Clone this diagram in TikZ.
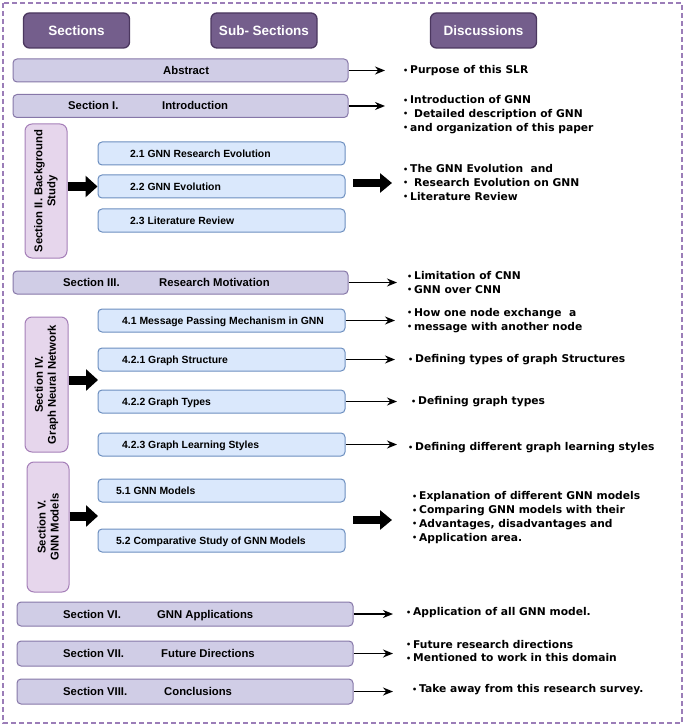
\documentclass[tikz,border=0pt]{standalone}
\usepackage{fontspec}
\setmainfont{Liberation Sans}
\newfontfamily\dvfont{DejaVu Sans}
\usetikzlibrary{arrows.meta}
\definecolor{hdrfill}{HTML}{745E8C}
\definecolor{hdrdraw}{HTML}{4B375F}
\definecolor{barfill}{HTML}{D0CDE6}
\definecolor{bardraw}{HTML}{8677A8}
\definecolor{secfill}{HTML}{E6D6EC}
\definecolor{secdraw}{HTML}{A57FB8}
\definecolor{subfill}{HTML}{DAE8FC}
\definecolor{subdraw}{HTML}{6C8EBF}
\definecolor{outerc}{HTML}{9B7DB8}
\newcommand\bul{\makebox[7pt][l]{\raisebox{0.6pt}{\fontsize{8}{8}\selectfont •}}}
\begin{document}
\begin{tikzpicture}[x=1pt,y=-1pt,
  hdr/.style={draw=hdrdraw,fill=hdrfill,line width=1.3pt,rounded corners=6pt,
    minimum width=106pt,minimum height=35pt,text=white,
    font=\fontsize{13.5}{15}\selectfont\bfseries},
  bar/.style={draw=bardraw,fill=barfill,line width=1pt,rounded corners=4pt,
    minimum width=335pt,minimum height=23pt},
  secbox/.style={draw=secdraw,fill=secfill,line width=1pt,rounded corners=7pt,
    minimum width=42pt,minimum height=134pt},
  sectext/.style={rotate=90,align=center,inner sep=0pt,
    font=\fontsize{11.3}{13}\selectfont\bfseries},
  subbox/.style={draw=subdraw,fill=subfill,line width=1pt,rounded corners=4pt,
    minimum width=247pt,minimum height=23pt},
  bartext/.style={anchor=west,inner sep=0pt,text height=8pt,text depth=0pt,
    font=\fontsize{11.3}{13}\selectfont\bfseries},
  subtext/.style={anchor=west,inner sep=0pt,text height=7.5pt,text depth=0pt,
    font=\fontsize{10.4}{12}\selectfont\bfseries},
  disc/.style={anchor=west,inner sep=0pt,align=left,
    font=\dvfont\fontsize{10.7}{13.7}\selectfont\bfseries},
  thinarrow/.style={line width=1.8pt,-{Stealth[length=10pt,width=8pt]}},
  fatarrow/.style={line width=9pt,-{Triangle[length=12pt,width=21pt]}},
  fatarrowR/.style={line width=7.5pt,-{Triangle[length=12pt,width=19pt]}}
]
\useasboundingbox (0,0) rectangle (685,727);
\draw[outerc,line width=1.5pt,dash pattern=on 5pt off 3pt] (3,3) rectangle (682,723);

% headers
\node[hdr] (h1) at (76.5,30.5) {Sections};
\node[hdr] (h2) at (264,30.5) {Sub- Sections};
\node[hdr] (h3) at (483.5,30.5) {Discussions};

% main bars
\node[bar] (abs) at (180.5,70.5) {};
\node[bartext] (absT) at (163,70.5) {Abstract};
\node[bar] (s1) at (180.5,106) {};
\node[bartext] (s1a) at (68,106) {Section I.};
\node[bartext] (s1b) at (162,106) {Introduction};
\node[bar] (s3) at (180.5,282.5) {};
\node[bartext] (s3a) at (63,282.5) {Section III.};
\node[bartext] (s3b) at (159,282.5) {Research Motivation};
\node[bar,minimum width=336pt,minimum height=24pt] (s6) at (185,614) {};
\node[bartext] (s6a) at (63,614) {Section VI.};
\node[bartext] (s6b) at (157,614) {GNN Applications};
\node[bar,minimum width=336pt,minimum height=25pt] (s7) at (185,653.5) {};
\node[bartext] (s7a) at (63,653.5) {Section VII.};
\node[bartext] (s7b) at (161,653.5) {Future Directions};
\node[bar,minimum width=336pt,minimum height=25pt] (s8) at (185,691.5) {};
\node[bartext] (s8a) at (63,691.5) {Section VIII.};
\node[bartext] (s8b) at (164,691.5) {Conclusions};

% vertical section boxes
\node[secbox] (s2) at (46,191) {};
\node[sectext] (s2T) at (s2) {Section II. Background\\Study};
\node[secbox,minimum width=43pt,minimum height=135pt] (s4) at (46.5,384.5) {};
\node[sectext] (s4T) at (s4) {Section IV.\\Graph Neural Network};
\node[secbox,minimum height=130pt] (s5) at (48,527) {};
\node[sectext] (s5T) at (s5) {Section V.\\GNN Models};

% sub boxes
\node[subbox] (b21) at (221.5,153.5) {};
\node[subtext] (b21T) at (130,153.5) {2.1 GNN Research Evolution};
\node[subbox] (b22) at (221.5,186.5) {};
\node[subtext] (b22T) at (130,186.5) {2.2 GNN Evolution};
\node[subbox] (b23) at (221.5,220.5) {};
\node[subtext] (b23T) at (130,220.5) {2.3 Literature Review};
\node[subbox] (b41) at (221.5,320.5) {};
\node[subtext] (b41T) at (122,320.5) {4.1 Message Passing Mechanism in GNN};
\node[subbox] (b421) at (221.5,359.5) {};
\node[subtext] (b421T) at (122,359.5) {4.2.1 Graph Structure};
\node[subbox] (b422) at (221.5,401.5) {};
\node[subtext] (b422T) at (122,401.5) {4.2.2 Graph Types};
\node[subbox] (b423) at (221.5,444.5) {};
\node[subtext] (b423T) at (122,444.5) {4.2.3 Graph Learning Styles};
\node[subbox] (b51) at (221.5,490.5) {};
\node[subtext] (b51T) at (116,490.5) {5.1 GNN Models};
\node[subbox] (b52) at (221.5,540.5) {};
\node[subtext] (b52T) at (116,540.5) {5.2 Comparative Study of GNN Models};

% fat arrows into sub-sections
\coordinate (t4) at (98,380);
\coordinate (t5) at (98,516);
\draw[fatarrow] (s2.east |- b22.west) -- (b22.west);
\draw[fatarrow] (s4.east |- t4) -- (t4);
\draw[fatarrow] (s5.east |- t5) -- (t5);

% fat arrows to discussions
\coordinate (a2s) at (353,183);
\coordinate (a2e) at (392,183);
\coordinate (a5s) at (353,520);
\coordinate (a5e) at (392,520);
\draw[fatarrowR] (a2s) -- (a2e);
\draw[fatarrowR] (a5s) -- (a5e);

% thin arrows
\coordinate (eA) at (385,70.5);
\coordinate (e1) at (385,106);
\coordinate (e3) at (397,282.5);
\coordinate (e41) at (395,320.5);
\coordinate (e421) at (395,359.5);
\coordinate (e422) at (397,401.5);
\coordinate (e423) at (397,444.5);
\coordinate (e6) at (393,614);
\coordinate (e7) at (393,653.5);
\coordinate (e8) at (393,691.5);
\draw[thinarrow] (abs.east) -- (eA);
\draw[thinarrow] (s1.east) -- (e1);
\draw[thinarrow] (s3.east) -- (e3);
\draw[thinarrow] (b41.east) -- (e41);
\draw[thinarrow] (b421.east) -- (e421);
\draw[thinarrow] (b422.east) -- (e422);
\draw[thinarrow] (b423.east) -- (e423);
\draw[thinarrow] (s6.east) -- (e6);
\draw[thinarrow] (s7.east) -- (e7);
\draw[thinarrow] (s8.east) -- (e8);

% discussions
\node[disc] (dA) at (403,71) {\bul Purpose of this SLR};
\node[disc] (d1) at (403,114.5) {\bul Introduction of GNN\\\bul\hspace{4pt}Detailed description of GNN\\\bul and organization of this paper};
\node[disc] (d2) at (403,182.5) {\bul The GNN Evolution\ \ and\\\bul\hspace{4pt}Research Evolution on GNN\\\bul Literature Review};
\node[disc] (d3) at (407,282.5) {\bul Limitation of CNN\\\bul GNN over CNN};
\node[disc] (d41) at (407,320.5) {\bul How one node exchange\ \ a\\\bul message with another node};
\node[disc] (d421) at (408,360) {\bul Defining types of graph Structures};
\node[disc] (d422) at (411,402) {\bul Defining graph types};
\node[disc] (d423) at (408,448) {\bul Defining different graph learning styles};
\node[disc] (d5) at (412,517.5) {\bul Explanation of different GNN models\\\bul Comparing GNN models with their\\\bul Advantages, disadvantages and\\\bul Application area.};
\node[disc] (d6) at (406,613) {\bul Application of all GNN model.};
\node[disc] (d7) at (406,651) {\bul Future research directions\\\bul Mentioned to work in this domain};
\node[disc] (d8) at (412,690) {\bul Take away from this research survey.};
\end{tikzpicture}
\end{document}
